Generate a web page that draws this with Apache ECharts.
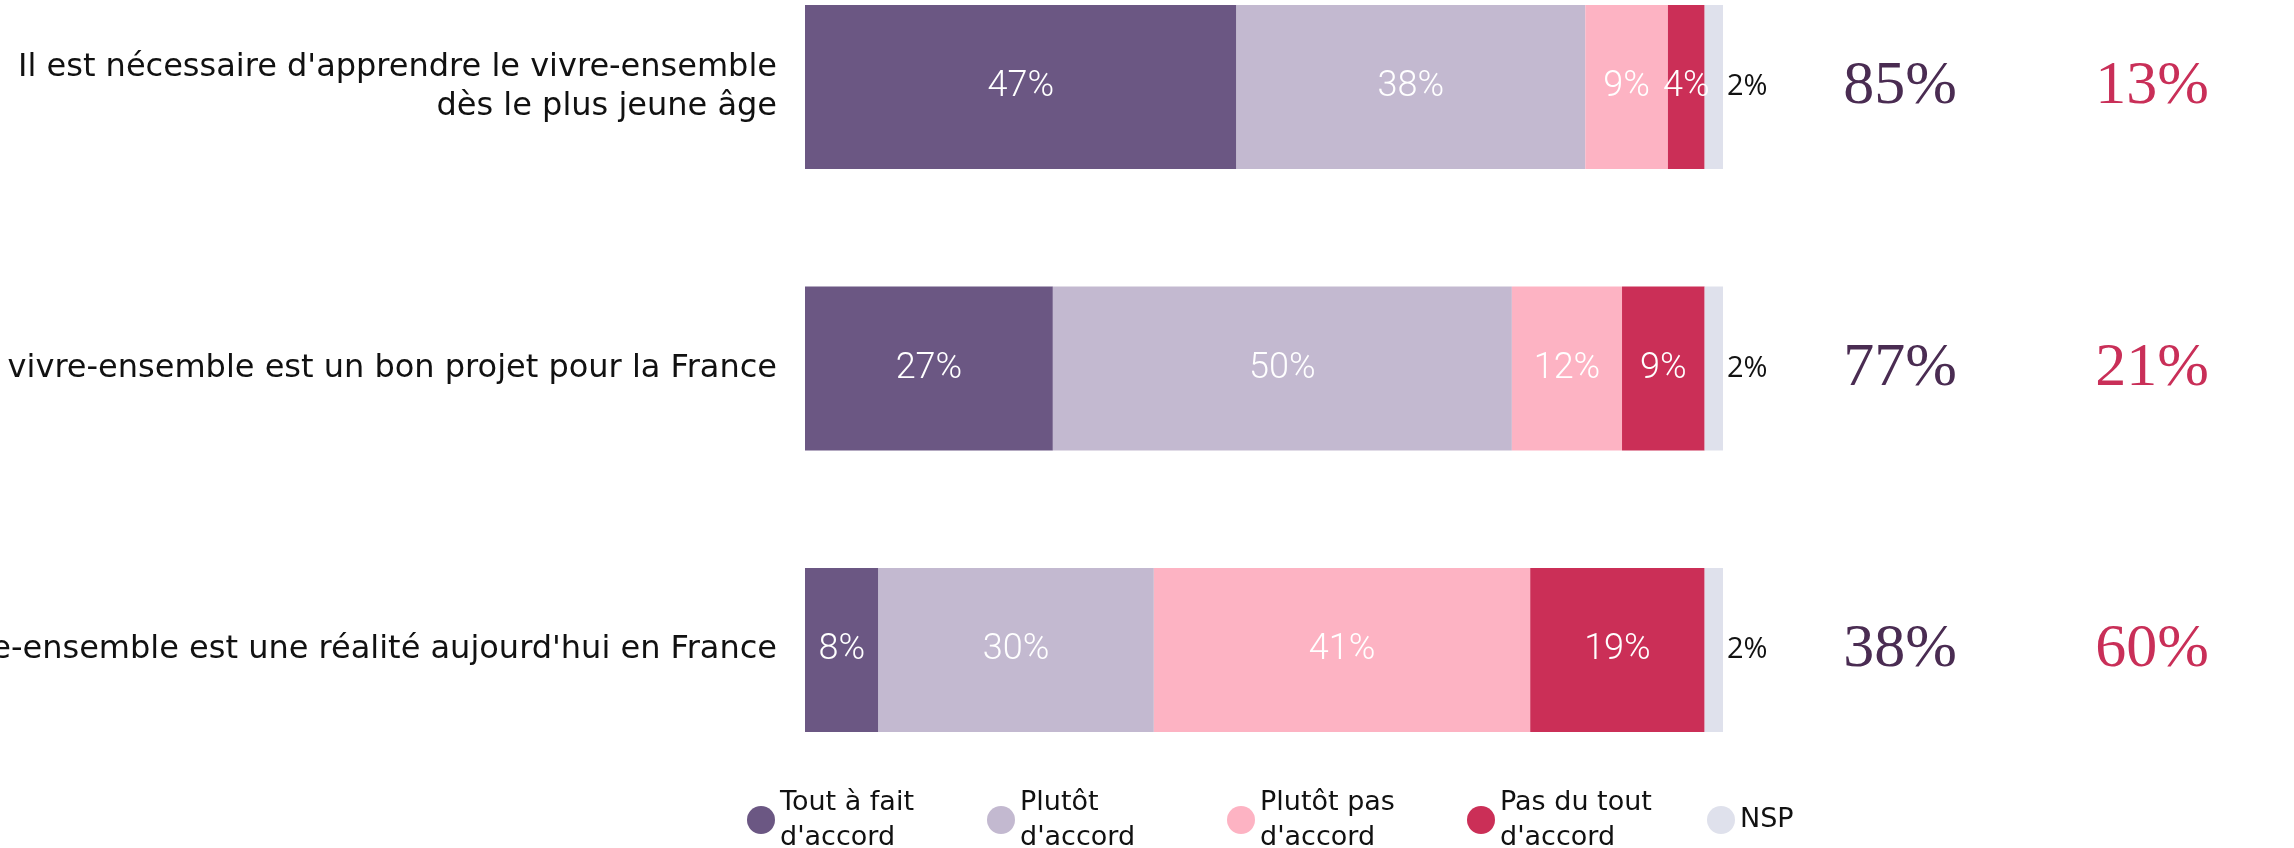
<!DOCTYPE html>
<html lang="fr">
<head>
<meta charset="UTF-8">
<title>Vivre-ensemble</title>
<script src="https://cdn.jsdelivr.net/npm/echarts@6/dist/echarts.min.js"></script>
<style>
  html, body { margin: 0; padding: 0; background: #fff; }
  #main { width: 2294px; height: 848px; }
</style>
</head>
<body>
<div id="main"></div>
<script>
// questions (de haut en bas)
var categories = [
  "Il est nécessaire d'apprendre le vivre-ensemble\ndès le plus jeune âge",
  "Le vivre-ensemble est un bon projet pour la France",
  "Le vivre-ensemble est une réalité aujourd'hui en France"
];
var toutAFait = [47, 27, 8];
var plutot = [38, 50, 30];
var plutotPas = [9, 12, 41];
var pasDuTout = [4, 9, 19];
var nsp = [2, 2, 2];

var seriesNames = ["Tout à fait\nd'accord", "Plutôt\nd'accord", "Plutôt pas\nd'accord", "Pas du tout\nd'accord", "NSP"];
var colors = ['#6b5783', '#c3b9d0', '#fdb3c3', '#cb2f57', '#dfe1ec'];

// totaux d'accord / pas d'accord
var totalAccord = toutAFait.map(function (v, i) { return v + plutot[i]; });
var totalPasAccord = plutotPas.map(function (v, i) { return v + pasDuTout[i]; });

var myChart = echarts.init(document.getElementById('main'));

var inLabel = {
  show: true,
  position: 'inside',
  color: '#fff',
  fontFamily: 'Roboto',
  fontWeight: 300,
  fontSize: 36,
  formatter: '{c}%'
};

function barSerie(name, data, color, label) {
  return {
    name: name,
    type: 'bar',
    stack: 'total',
    barWidth: 164,
    clip: false,
    data: data,
    itemStyle: { color: color },
    label: label,
    emphasis: { disabled: true }
  };
}

var option = {
  animation: false,
  color: colors,
  grid: { left: 805, right: 571, top: 87, bottom: 198, containLabel: false, outerBoundsMode: 'none' },
  xAxis: { type: 'value', min: 0, max: 100, show: false },
  yAxis: [
    {
      type: 'category',
      data: categories,
      inverse: true,
      boundaryGap: false,
      axisLine: { show: false },
      axisTick: { show: false },
      axisLabel: {
        margin: 28,
        align: 'right',
        color: '#111',
        fontFamily: 'DejaVu Sans',
        fontSize: 32,
        lineHeight: 39
      }
    },
    {
      type: 'category',
      data: categories,
      inverse: true,
      boundaryGap: false,
      position: 'right',
      axisLine: { show: false },
      axisTick: { show: false },
      axisLabel: {
        margin: 177,
        align: 'center',
        color: '#4a2c52',
        fontFamily: 'Liberation Serif',
        fontSize: 62,
        formatter: function (v, i) { return totalAccord[i] + '%'; }
      }
    },
    {
      type: 'category',
      data: categories,
      inverse: true,
      boundaryGap: false,
      position: 'right',
      axisLine: { show: false },
      axisTick: { show: false },
      axisLabel: {
        margin: 429,
        align: 'center',
        color: '#c92f58',
        fontFamily: 'Liberation Serif',
        fontSize: 62,
        formatter: function (v, i) { return totalPasAccord[i] + '%'; }
      }
    }
  ],
  legend: {
    left: 742,
    top: 780,
    icon: 'circle',
    itemWidth: 28,
    itemHeight: 28,
    itemGap: 47,
    data: seriesNames,
    textStyle: {
      width: 160,
      color: '#111',
      fontFamily: 'DejaVu Sans',
      fontSize: 27,
      lineHeight: 35
    }
  },
  series: [
    barSerie(seriesNames[0], toutAFait, colors[0], inLabel),
    barSerie(seriesNames[1], plutot, colors[1], inLabel),
    barSerie(seriesNames[2], plutotPas, colors[2], inLabel),
    barSerie(seriesNames[3], pasDuTout, colors[3], inLabel),
    barSerie(seriesNames[4], nsp, colors[4], {
      show: true,
      position: 'right',
      distance: 4,
      color: '#111',
      fontFamily: 'Open Sans',
      fontSize: 29,
      formatter: '{c}%'
    })
  ]
};

myChart.setOption(option);
</script>
</body>
</html>
